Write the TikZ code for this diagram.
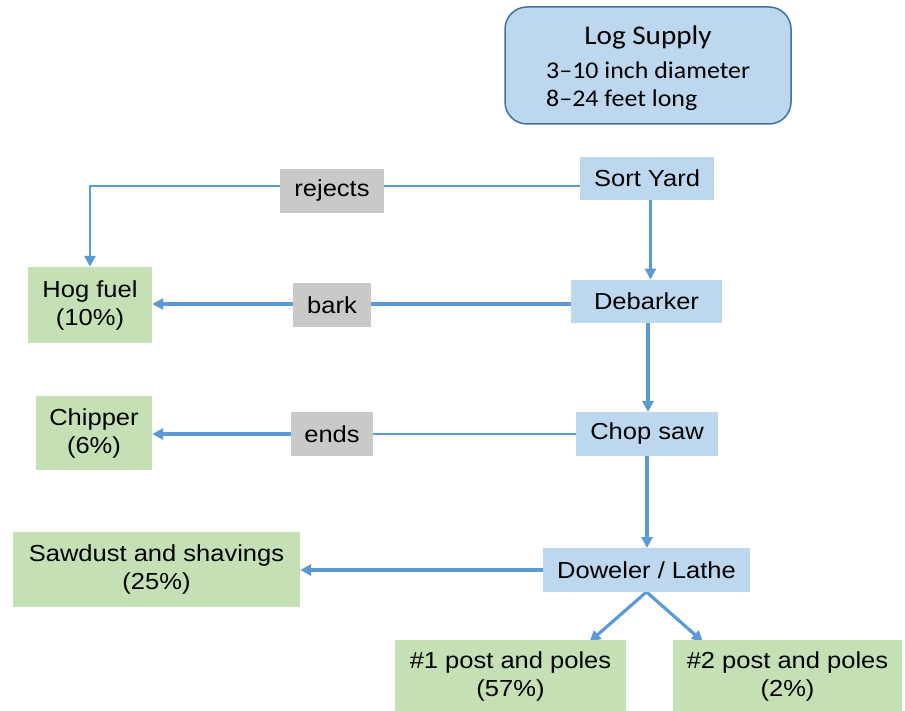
\documentclass[tikz,border=0pt]{standalone}
\usepackage{fontspec}
\usetikzlibrary{arrows.meta,calc}
\newfontfamily\arialx[FakeStretch=1.1]{Liberation Sans}
\newfontfamily\calibx[FakeStretch=1.08]{Carlito}
\definecolor{procblue}{HTML}{BDD7EE}
\definecolor{outgreen}{HTML}{C5E0B4}
\definecolor{tagGray}{HTML}{C9C9C9}
\definecolor{flow}{HTML}{5B9BD5}
\definecolor{logborder}{HTML}{41719C}
\pgfdeclarelayer{bg}\pgfsetlayers{bg,main}
\begin{document}
\begin{tikzpicture}[x=1pt,y=-1pt,
  txt/.style={font=\arialx\fontsize{23.2}{28}\selectfont, align=center, inner sep=0pt, text=black},
  proc/.style={txt, fill=procblue, minimum width=#1, minimum height=43.5pt},
  outbox/.style 2 args={txt, fill=outgreen, minimum width=#1, minimum height=#2},
  tagbox/.style={txt, fill=tagGray, minimum width=#1, minimum height=44pt},
  thinflow/.style={draw=flow, line width=1.6pt},
  thickflow/.style={draw=flow, line width=3.2pt},
  tip/.style={-{Triangle[length=11pt,width=11pt]}}
]
\useasboundingbox (0,0) rectangle (905,711);

% Log supply
\node[draw=logborder, line width=1.5pt, fill=procblue, rounded corners=22pt,
      minimum width=286pt, minimum height=117pt, inner sep=0pt] (log) at (648,65.5) {};
\node[font=\calibx\fontsize{27}{30}\selectfont, inner sep=0pt] (logA) at (648,37) {Log Supply};
\node[font=\calibx\fontsize{24}{28}\selectfont, inner sep=0pt, anchor=west] (logB) at (546,70) {3–10 inch diameter};
\node[font=\calibx\fontsize{24}{28}\selectfont, inner sep=0pt, anchor=west] (logC) at (546,100) {8–24 feet long};

% process boxes
\node[proc=134pt] (sort) at (647,178.5) {Sort Yard};
\node[proc=151pt] (deb) at (646.5,301.5) {Debarker};
\node[proc=142pt] (chop) at (647,434) {Chop saw};
\node[proc=207pt] (dow) at (646.5,570) {Doweler / Lathe};

% outputs
\node[outbox={124pt}{76pt}] (hog) at (90,305) {Hog fuel\\(10\%)};
\node[outbox={116pt}{74pt}] (chip) at (94,433) {Chipper\\(6\%)};
\node[outbox={287pt}{75pt}] (saw) at (156.5,569.5) {Sawdust and shavings\\(25\%)};
\node[outbox={231pt}{72pt}] (p1) at (510.5,676) {\#1 post and poles\\(57\%)};
\node[outbox={229pt}{72pt}] (p2) at (787.5,676) {\#2 post and poles\\(2\%)};

% tags
\node[tagbox=104pt] (rj) at (332,191) {rejects};
\node[tagbox=78pt] (bk) at (332,305) {bark};
\node[tagbox=82pt] (en) at (332,434) {ends};

\begin{pgfonlayer}{bg}
  \coordinate (rjcorner) at (90,186);
  \draw[thinflow] ([yshift=-7.5pt]sort.west) -- (rjcorner);
  \draw[draw=flow, line width=2.6pt, tip] ([yshift=0.8pt]rjcorner) -- (hog.north);
  \draw[thickflow, tip] ([yshift=-2.5pt]deb.west) -- ([yshift=-2.5pt]deb.west -| hog.east);
  \draw[thinflow] (chop.west) -- (en.east);
  \draw[thickflow, tip] (en.west) -- (en.west -| chip.east);
  \draw[thickflow, tip] (dow.west) -- (dow.west -| saw.east);
  \draw[thickflow, tip] ([xshift=3.5pt]sort.south) -- ([xshift=3.5pt]sort.south |- deb.north);
  \draw[thickflow, tip] ([xshift=1.5pt]deb.south) -- ([xshift=1.5pt]deb.south |- chop.north);
  \draw[thickflow, tip] (chop.south) -- (chop.south |- dow.north);
  \draw[thickflow, tip] (dow.south) -- ([xshift=79pt,yshift=-2pt]p1.north);
  \draw[thickflow, tip] (dow.south) -- ([xshift=-84.5pt,yshift=-2pt]p2.north);
\end{pgfonlayer}
\end{tikzpicture}
\end{document}
